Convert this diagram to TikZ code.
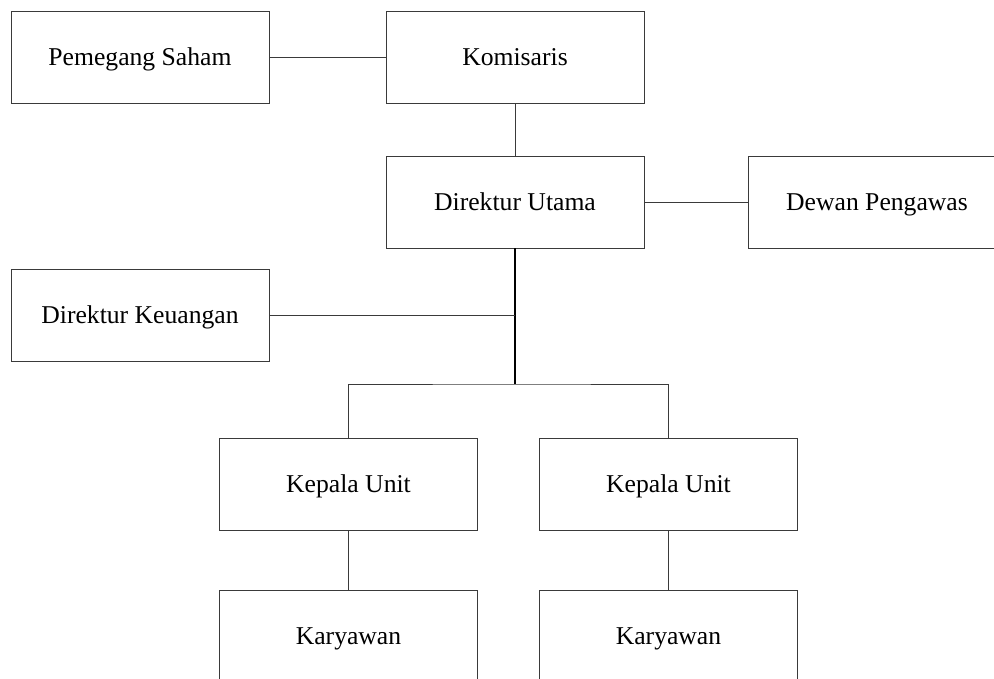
\documentclass[tikz,border=0pt]{standalone}
\usepackage{fontspec}
\setmainfont{Liberation Serif}
\usepackage{tikz}
\usetikzlibrary{calc,positioning}
\definecolor{OrgLine}{HTML}{3A3A3A}
\tikzset{
  orgbox/.style={draw=OrgLine,line width=0.5pt,fill=white,align=center,
    minimum width=5.16cm,minimum height=1.84cm,inner sep=2pt,
    text height=9.7pt,text depth=0pt,
    font=\fontsize{14.6}{17}\selectfont},
  link/.style={draw=OrgLine,line width=0.5pt},
  trunk/.style={draw=black,line width=0.9pt}
}

\begin{document}
\begin{tikzpicture}[x=0.02cm,y=-0.02cm]
  \useasboundingbox (0,0) rectangle (994,679);
  \clip (0,0) rectangle (994,679);

  \node[orgbox] (saham) at (140,57) {Pemegang Saham};
  \node[orgbox] (komisaris) at (515,57) {Komisaris};
  \node[orgbox] (dirut) at (515,202) {Direktur Utama};
  \node[orgbox] (dewan) at (877,202) {Dewan Pengawas};
  \node[orgbox] (keuangan) at (140,315) {Direktur Keuangan};

  \node[orgbox] (kepalaA) at (348.5,484) {Kepala Unit};
  \node[orgbox] (kepalaB) at (668.5,484) {Kepala Unit};
  \node[orgbox] (karyawanA) at (348.5,636) {Karyawan};
  \node[orgbox] (karyawanB) at (668.5,636) {Karyawan};

  \coordinate (bus) at (515,384);

  \draw[link] (saham.east) -- (komisaris.west);
  \draw[link] (komisaris.south) -- (dirut.north);
  \draw[link] (dirut.east) -- (dewan.west);
  \draw[trunk] (dirut.south) -- (bus);
  \draw[link] (keuangan.east) -- (keuangan.east -| bus);
  \draw[link] (kepalaA.north) |- (bus) -| (kepalaB.north);
  \draw[link] (kepalaA.south) -- (karyawanA.north);
  \draw[link] (kepalaB.south) -- (karyawanB.north);

\end{tikzpicture}
\end{document}
